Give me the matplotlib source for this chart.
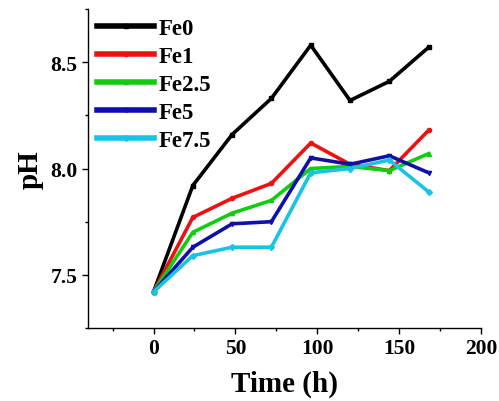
import numpy as np
import matplotlib
matplotlib.use("Agg")
import matplotlib.pyplot as plt
from matplotlib.ticker import MultipleLocator

time_h = [0, 24, 48, 72, 96, 120, 144, 168]
fe0 = [7.42, 7.92, 8.16, 8.33, 8.58, 8.32, 8.41, 8.57]
fe1 = [7.42, 7.77, 7.86, 7.93, 8.12, 8.02, 7.99, 8.18]
fe2_5 = [7.42, 7.70, 7.79, 7.85, 8.00, 8.01, 7.99, 8.07]
fe5 = [7.42, 7.63, 7.74, 7.75, 8.05, 8.02, 8.06, 7.98]
fe7_5 = [7.42, 7.59, 7.63, 7.63, 7.98, 8.00, 8.04, 7.89]

labels = ["Fe0", "Fe1", "Fe2.5", "Fe5", "Fe7.5"]
colors = ["#000000", "#ee1111", "#11cc11", "#1010a8", "#18c4e6"]
markers = ["s", "o", "^", "v", "D"]

plt.rcParams['font.family'] = ['Liberation Serif', 'DejaVu Serif']
plt.rcParams['font.weight'] = 'bold'

fig = plt.figure(figsize=(4.99, 4.02), dpi=100)
ax = fig.add_axes([0.1764, 0.1816, 0.7876, 0.7934])

for y, lab, c, m in zip([fe0, fe1, fe2_5, fe5, fe7_5], labels, colors, markers):
	ax.plot(time_h, y, color=c, lw=2.6, marker=m, ms=3, label=lab)

ax.set_xlim(-40, 200)
ax.set_ylim(7.25, 8.75)
ax.xaxis.set_major_locator(MultipleLocator(50))
ax.xaxis.set_minor_locator(MultipleLocator(25))
ax.yaxis.set_major_locator(MultipleLocator(0.5))
ax.yaxis.set_minor_locator(MultipleLocator(0.25))
ax.spines['top'].set_visible(False)
ax.spines['right'].set_visible(False)
for s in ['left', 'bottom']:
	ax.spines[s].set_linewidth(1.0)
ax.tick_params(which='major', length=4, width=1, labelsize=15.5)
ax.tick_params(which='minor', length=2.5, width=1)
for t in ax.get_xticklabels() + ax.get_yticklabels():
	t.set_fontweight('bold')

ax.set_xlabel("Time (h)", fontsize=21, fontweight='bold', labelpad=8)
ax.set_ylabel("pH", fontsize=21, fontweight='bold', labelpad=5)

leg = ax.legend(loc='upper left', frameon=False, fontsize=16.5, handlelength=2.5,
	handletextpad=0.2, labelspacing=0.3, borderaxespad=0.1, borderpad=0.3)
for t in leg.get_texts():
	t.set_fontweight('bold')
for h in leg.get_lines():
	h.set_linewidth(4)

fig.savefig("out.png", dpi=100)
